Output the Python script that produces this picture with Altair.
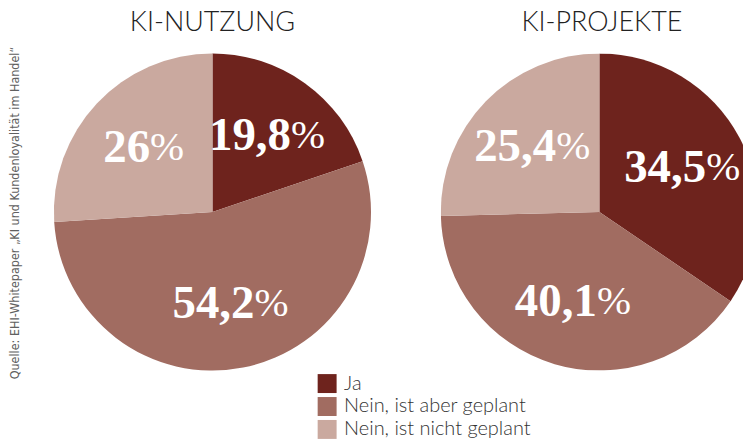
import altair as alt
import pandas as pd

categories = ["Ja", "Nein, ist aber geplant", "Nein, ist nicht geplant"]
colors = ["#6e231d", "#a16c61", "#caa99f"]
nutzung_values = [19.8, 54.2, 26.0]
nutzung_labels = ["19,8", "54,2", "26"]
projekte_values = [34.5, 40.1, 25.4]
projekte_labels = ["34,5", "40,1", "25,4"]
panel_titles = ["KI-NUTZUNG", "KI-PROJEKTE"]
source_text = "Quelle: EHI-Whitepaper „KI und Kundenloyalität im Handel“"

color_enc = alt.Color(
    "cat:N",
    scale=alt.Scale(domain=categories, range=colors),
    sort=categories,
    legend=alt.Legend(title=None),
)

PIE_R = 159


def pie(values, labels, title, width, clip=False, center=None, title_dx=0):
    df = pd.DataFrame({
        "cat": categories,
        "idx": list(range(len(categories))),
        "value": values,
        "num": labels,
        "len": [len(l) for l in labels],
    })
    ctr = {} if center is None else {"x": alt.value(center)}
    arc = alt.Chart(df).mark_arc(outerRadius=PIE_R, clip=clip).encode(
        theta=alt.Theta("value:Q", stack=True, scale=alt.Scale(domain=[0, 100])),
        order=alt.Order("idx:Q"),
        color=color_enc,
        **ctr,
    )
    txt_base = (
        alt.Chart(df)
        .transform_window(cum="sum(value)", sort=[alt.SortField("idx")])
        .transform_calculate(mid="datum.cum - datum.value / 2")
    )
    layers = [arc]
    for cond, d in [("datum.len > 2", 24), ("datum.len <= 2", 6)]:
        b = txt_base.transform_filter(cond).encode(
            theta=alt.Theta("mid:Q", stack=None, scale=alt.Scale(domain=[0, 100])),
            **ctr,
        )
        layers.append(
            b.mark_text(radius=94, align="right", baseline="middle", dx=d,
                        font="Liberation Serif", fontWeight="bold", fontSize=47,
                        color="white").encode(text="num:N")
        )
        layers.append(
            b.mark_text(radius=94, align="left", baseline="middle", dx=d,
                        font="Liberation Serif", fontSize=41,
                        color="white").encode(text=alt.value("%"))
        )
    return alt.layer(*layers).properties(
        width=width, height=318, title=alt.TitleParams(title, dx=title_dx)
    )


src = alt.Chart(pd.DataFrame({"t": [source_text]})).mark_text(
    angle=270, font="DejaVu Sans Condensed, Roboto Condensed, Arial Narrow, sans-serif",
    fontSize=12.5, color="#606060", baseline="middle", align="center"
).encode(text="t:N", x=alt.value(5), y=alt.value(160)).properties(width=12, height=318)

p1 = pie(nutzung_values, nutzung_labels, panel_titles[0], 318)
p2 = pie(projekte_values, projekte_labels, panel_titles[1], 303, clip=True,
         center=PIE_R, title_dx=10)

chart = (
    alt.hconcat(alt.hconcat(src, p1, spacing=32), p2, spacing=70)
    .resolve_scale(color="shared", theta="independent")
    .properties(padding=0)
    .configure_view(stroke=None)
    .configure_title(font="Lato", fontWeight=300, fontSize=27, color="#222222",
                     anchor="middle", offset=17)
    .configure_legend(
        orient="none", legendX=308, legendY=321, direction="vertical",
        symbolType="square", symbolSize=361, symbolStrokeWidth=0,
        symbolOpacity=1, labelFont="Lato", labelFontSize=20,
        labelFontWeight=300, labelColor="#333333", labelOffset=7,
        rowPadding=3, padding=0, labelLimit=400,
    )
)

chart.save("out.html", embed_options={"renderer": "svg", "actions": False})
